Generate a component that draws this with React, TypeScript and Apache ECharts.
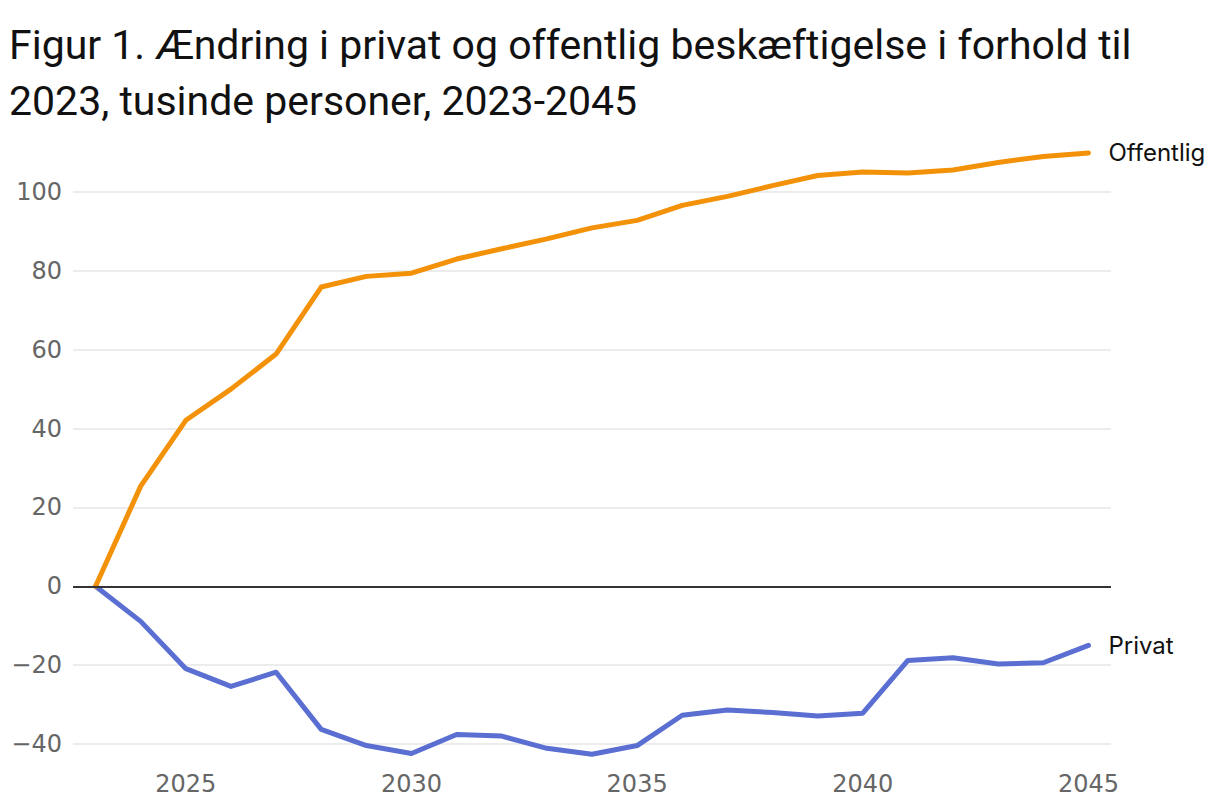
import React, { useEffect, useRef } from "react";
import * as echarts from "echarts";

const years = ["2023","2024","2025","2026","2027","2028","2029","2030","2031","2032","2033","2034","2035","2036","2037","2038","2039","2040","2041","2042","2043","2044","2045"];
const offentlig = [0, 25.4, 42.1, 50, 58.9, 75.9, 78.6, 79.4, 83, 85.6, 88.1, 90.9, 92.8, 96.6, 98.9, 101.6, 104.2, 105.1, 104.8, 105.6, 107.5, 109, 109.9];
const privat = [0, -8.9, -20.9, -25.4, -21.8, -36.3, -40.4, -42.4, -37.6, -38, -41.1, -42.6, -40.4, -32.7, -31.4, -32, -32.9, -32.2, -18.8, -18.1, -19.7, -19.4, -15];
const labeledYears = ["2025", "2030", "2035", "2040", "2045"];
const titleText = "Figur 1. Ændring i privat og offentlig beskæftigelse i forhold til\n2023, tusinde personer, 2023-2045";

export default function App() {
  const ref = useRef<HTMLDivElement>(null);
  useEffect(() => {
    document.body.style.margin = "0";
    const chart = echarts.init(ref.current!, null, { renderer: "svg" });
    const font = "Roboto, 'Liberation Sans', sans-serif";
    const axisFont = "'DejaVu Sans', sans-serif";
    const labelFont = "Inter, Roboto, sans-serif";
    chart.setOption({
      animation: false,
      backgroundColor: "#ffffff",
      textStyle: { fontFamily: font },
      title: {
        text: titleText,
        left: 4,
        top: 12,
        textStyle: { fontSize: 41, fontWeight: "normal", color: "#111", lineHeight: 56, fontFamily: font },
      },
      grid: { left: 73, right: 109, top: 192, bottom: 66, containLabel: false },
      xAxis: {
        type: "category",
        data: years,
        boundaryGap: true,
        axisLine: { show: false },
        axisTick: { show: false },
        splitLine: { show: false },
        axisLabel: {
          interval: (i: number, v: string) => labeledYears.includes(v),
          color: "#666",
          fontSize: 24,
          margin: 28,
          fontFamily: axisFont,
        },
      },
      yAxis: {
        type: "value",
        min: -40,
        max: 100,
        interval: 20,
        axisLine: { show: false },
        axisTick: { show: false },
        axisLabel: {
          color: "#666",
          fontSize: 24,
          margin: 11,
          fontFamily: axisFont,
          formatter: (v: number) => (v < 0 ? "\u2212" + Math.abs(v) : String(v)),
        },
        splitLine: { lineStyle: { color: "#e6e6e6", width: 1.5 } },
      },
      series: [
        {
          name: "Offentlig",
          type: "line",
          data: offentlig,
          clip: false,
          symbol: "none",
          lineStyle: { color: "#F39208", width: 5, cap: "round", join: "round" },
          itemStyle: { color: "#F39208" },
          endLabel: { show: true, formatter: "{a}", color: "#111", fontSize: 24, distance: 20, fontFamily: labelFont },
          z: 3,
        },
        {
          name: "Privat",
          type: "line",
          data: privat,
          clip: false,
          symbol: "none",
          lineStyle: { color: "#5A6FD1", width: 5, cap: "round", join: "round" },
          itemStyle: { color: "#5A6FD1" },
          endLabel: { show: true, formatter: "{a}", color: "#111", fontSize: 24, distance: 20, fontFamily: labelFont },
          markLine: {
            silent: true,
            symbol: "none",
            label: { show: false },
            lineStyle: { color: "#333", width: 2, type: "solid" },
            data: [{ yAxis: 0 }],
          },
          z: 2,
        },
      ],
    });
    return () => chart.dispose();
  }, []);
  return <div ref={ref} style={{ width: 1220, height: 810 }} />;
}
